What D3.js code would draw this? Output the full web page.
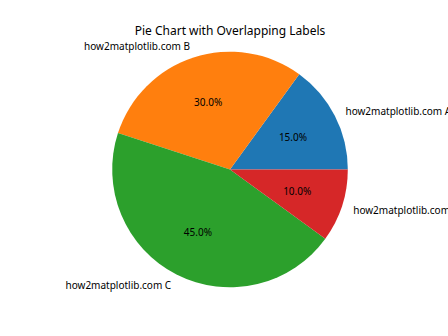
<!DOCTYPE html>
<html>
<head>
<meta charset="utf-8">
<script src="https://cdn.jsdelivr.net/npm/d3@7"></script>
<style>
  body { margin: 0; background: #fff; }
  text { font-family: "Noto Sans", sans-serif; fill: #000; }
</style>
</head>
<body>
<svg width="448" height="336"></svg>
<script>
const labels = ["how2matplotlib.com A", "how2matplotlib.com B", "how2matplotlib.com C", "how2matplotlib.com D"];
const sizes = [15, 30, 45, 10];
const colors = ["#1f77b4", "#ff7f0e", "#2ca02c", "#d62728"];

const svg = d3.select("svg");
const cx = 230, cy = 169.5, r = 117.8;

svg.append("text")
    .attr("x", cx)
    .attr("y", 30)
    .attr("text-anchor", "middle")
    .attr("dominant-baseline", "central")
    .style("font-size", "12px")
    .text("Pie Chart with Overlapping Labels");

// matplotlib starts at 3 o'clock and goes counter-clockwise
const pie = d3.pie()
    .sort(null)
    .startAngle(Math.PI / 2)
    .endAngle(Math.PI / 2 - 2 * Math.PI);

const arcs = pie(sizes);
const total = d3.sum(sizes);

const g = svg.append("g").attr("transform", `translate(${cx},${cy})`);

const arc = d3.arc().innerRadius(0).outerRadius(r);
const labelArc = d3.arc().innerRadius(r * 1.1).outerRadius(r * 1.1);
const pctArc = d3.arc().innerRadius(r * 0.6).outerRadius(r * 0.6);

g.selectAll("path")
    .data(arcs)
    .join("path")
    .attr("d", arc)
    .attr("fill", (d, i) => colors[i]);

g.selectAll("text.lbl")
    .data(arcs)
    .join("text")
    .attr("class", "lbl")
    .attr("x", d => labelArc.centroid(d)[0])
    .attr("y", d => labelArc.centroid(d)[1])
    .attr("text-anchor", d => labelArc.centroid(d)[0] > 0 ? "start" : "end")
    .attr("dominant-baseline", "central")
    .style("font-size", "10px")
    .text((d, i) => labels[i]);

g.selectAll("text.pct")
    .data(arcs)
    .join("text")
    .attr("class", "pct")
    .attr("x", d => pctArc.centroid(d)[0])
    .attr("y", d => pctArc.centroid(d)[1])
    .attr("text-anchor", "middle")
    .attr("dominant-baseline", "central")
    .style("font-size", "10px")
    .text(d => (d.value / total * 100).toFixed(1) + "%");
</script>
</body>
</html>
